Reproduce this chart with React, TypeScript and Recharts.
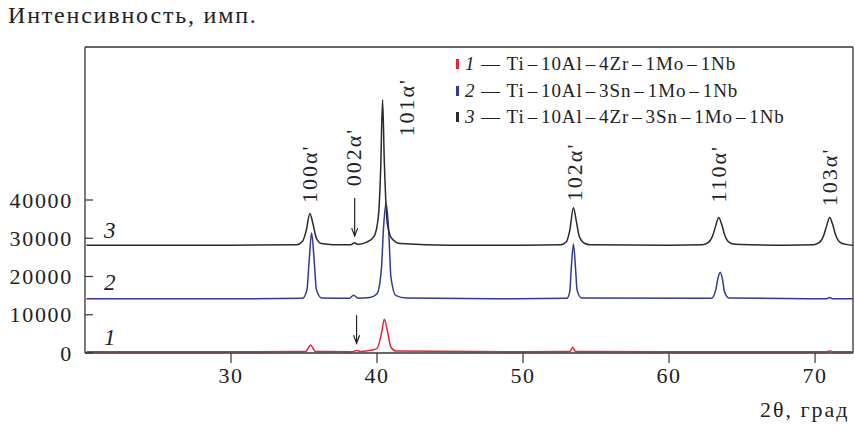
import { LineChart, Line, XAxis, YAxis, ReferenceLine, ReferenceDot } from 'recharts'

const FONT = '"Liberation Serif", "Times New Roman", serif'

// curve 3: Ti-10Al-4Zr-3Sn-1Mo-1Nb (black, offset up)
const theta3 = [20.1, 30, 34.5, 34.9, 35.15, 35.4, 35.6, 35.85, 36.2, 37, 38.2, 38.45, 38.7, 39.3, 39.8, 40.1, 40.25, 40.38, 40.5, 40.7, 41.0, 41.6, 45, 50, 52.6, 52.95, 53.2, 53.45, 53.65, 53.85, 54.2, 54.6, 60, 62.3, 62.7, 63.0, 63.2, 63.4, 63.6, 63.8, 64.1, 64.5, 68, 69.9, 70.3, 70.6, 70.8, 71.0, 71.2, 71.4, 71.7, 72.1, 72.6]
const counts3 = [28200, 28200, 28300, 29200, 32000, 36500, 34000, 30000, 28600, 28300, 28300, 28800, 28400, 29000, 30500, 36000, 48000, 66200, 50000, 34000, 30000, 28600, 28200, 28200, 28300, 29000, 32000, 38000, 34500, 30500, 28700, 28300, 28200, 28300, 28900, 30800, 33300, 35400, 33700, 31000, 29000, 28400, 28200, 28300, 28900, 30800, 33300, 35400, 33700, 31000, 29000, 28400, 28200]

// curve 2: Ti-10Al-3Sn-1Mo-1Nb (blue)
const theta2 = [20.1, 30, 34.9, 35.2, 35.35, 35.52, 35.7, 35.85, 36.2, 38.1, 38.4, 38.7, 39.5, 40.0, 40.3, 40.45, 40.62, 40.8, 40.95, 41.3, 42, 48, 53.0, 53.2, 53.3, 53.45, 53.6, 53.7, 54.0, 62.9, 63.2, 63.35, 63.5, 63.65, 63.8, 64.1, 70.8, 71.0, 71.2, 72.6]
const counts2 = [14200, 14200, 14300, 16500, 24000, 31400, 24000, 16500, 14400, 14300, 15100, 14300, 14500, 15500, 22000, 33000, 39300, 32000, 20000, 15000, 14400, 14200, 14300, 16000, 22000, 28500, 22000, 16500, 14400, 14300, 16500, 19500, 21100, 19500, 16000, 14400, 14200, 14500, 14200, 14200]

// curve 1: Ti-10Al-4Zr-1Mo-1Nb (red)
const theta1 = [20.1, 30, 35.1, 35.3, 35.45, 35.6, 35.8, 38.3, 38.6, 38.9, 39.6, 40.0, 40.3, 40.5, 40.7, 40.95, 41.3, 50, 53.2, 53.4, 53.6, 60, 70.8, 71.0, 71.2, 72.6]
const counts1 = [300, 300, 400, 1300, 2100, 1300, 400, 350, 650, 400, 700, 1200, 5000, 8800, 6000, 1500, 500, 300, 400, 1500, 400, 300, 350, 550, 350, 300]

const xTicks = [30, 40, 50, 60, 70]
const yTicks = [0, 10000, 20000, 30000, 40000]

const peakLabels = ["100α'", "002α'", "101α'", "102α'", "110α'", "103α'"]
const peakTheta = [35.36, 38.35, 42.0, 53.5, 63.35, 71.0]
const peakLabelBase = [39200, 43600, 56600, 39700, 39300, 38400]

const arrowTheta = [38.47, 38.6]
const arrowStart = [40500, 9870]

const curveNums = ['3', '2', '1']
const curveNumTheta = [21.7, 21.7, 21.7]
const curveNumBase = [30100, 16400, 2100]

const seriesNames = ['1', '2', '3']
const seriesAlloys = ['Ti–10Al–4Zr–1Mo–1Nb', 'Ti–10Al–3Sn–1Mo–1Nb', 'Ti–10Al–4Zr–3Sn–1Mo–1Nb']
const seriesColors = ['#e32636', '#323a96', '#2a2a2a']

const zip = (xs: number[], ys: number[]) => xs.map((x, i) => ({ x, y: ys[i] }))
const data1 = zip(theta1, counts1)
const data2 = zip(theta2, counts2)
const data3 = zip(theta3, counts3)

const AX = '#333'

function YTick({ x, y, payload }: any) {
  return (
    <g>
      <line x1={x + 12} x2={x + 20} y1={y} y2={y} stroke={AX} strokeWidth={1.2} />
      <text x={x} y={y} dy="0.35em" textAnchor="end" fontFamily={FONT} fontSize={22} letterSpacing={1.7} fill="#222">
        {payload.value}
      </text>
    </g>
  )
}

function XTick({ x, y, payload }: any) {
  return (
    <text x={x} y={y} dy="0.8em" textAnchor="middle" fontFamily={FONT} fontSize={22} letterSpacing={1.5} fill="#222">
      {payload.value}
    </text>
  )
}

function Alloy({ name }: { name: string }) {
  const parts = name.split('–')
  return (
    <>
      {parts.map((p, i) => (
        <span key={i}>
          {i > 0 && <span style={{ margin: '0 3px' }}>–</span>}
          {p}
        </span>
      ))}
    </>
  )
}

function LegendBox() {
  return (
    <div style={{ position: 'absolute', left: 456, top: 51, fontFamily: FONT, fontSize: 19, letterSpacing: 0.9, color: '#222', lineHeight: '26.5px' }}>
      {seriesNames.map((n, i) => (
        <div key={n} style={{ whiteSpace: 'nowrap', display: 'flex', alignItems: 'center' }}>
          <span style={{ display: 'inline-block', width: 3, height: 10, background: seriesColors[i], marginRight: 6 }} />
          <i>{n}</i>&nbsp;—&nbsp;<Alloy name={seriesAlloys[i]} />
        </div>
      ))}
    </div>
  )
}

export default function App() {
  return (
    <div style={{ position: 'absolute', left: 0, top: 0, width: 855, height: 432, background: '#fff', fontFamily: FONT }}>
      <LineChart width={855} height={432} margin={{ top: 47, right: 2, bottom: 49, left: 0 }}>
        <XAxis
          dataKey="x"
          type="number"
          domain={[20, 72.6]}
          ticks={xTicks}
          allowDataOverflow
          height={30}
          tickSize={10}
          tickMargin={2}
          tick={<XTick />}
          axisLine={{ stroke: AX, strokeWidth: 1.3 }}
          tickLine={{ stroke: AX, strokeWidth: 1.2 }}
        />
        <YAxis
          type="number"
          domain={[0, 80000]}
          ticks={yTicks}
          allowDataOverflow
          width={85}
          tickSize={0}
          tickMargin={12}
          tickLine={false}
          tick={<YTick />}
          axisLine={{ stroke: AX, strokeWidth: 1.3 }}
        />
        <ReferenceLine y={80000} stroke={AX} strokeWidth={1.3} />
        <ReferenceLine x={72.6} stroke={AX} strokeWidth={1.3} />
        <Line data={data1} dataKey="y" type="monotone" stroke={seriesColors[0]} strokeWidth={1.5} dot={false} isAnimationActive={false} />
        <Line data={data2} dataKey="y" type="monotone" stroke={seriesColors[1]} strokeWidth={1.5} dot={false} isAnimationActive={false} />
        <Line data={data3} dataKey="y" type="monotone" stroke={seriesColors[2]} strokeWidth={1.5} dot={false} isAnimationActive={false} />
        {peakLabels.map((t, i) => (
          <ReferenceDot
            key={t}
            x={peakTheta[i]}
            y={peakLabelBase[i]}
            r={0}
            shape={(p: any) => (
              <text
                x={p.cx}
                y={p.cy}
                transform={`rotate(-90 ${p.cx} ${p.cy})`}
                dy="0.35em"
                textAnchor="start"
                fontFamily={FONT}
                fontSize={22}
                letterSpacing={2}
                fill="#222"
              >
                {t}
              </text>
            )}
          />
        ))}
        {arrowTheta.map((a, i) => (
          <ReferenceDot
            key={'arr' + i}
            x={a}
            y={arrowStart[i]}
            r={0}
            shape={(p: any) => (
              <g>
                <line x1={p.cx} x2={p.cx} y1={p.cy} y2={p.cy + (i === 0 ? 37 : 27)} stroke="#222" strokeWidth={1.2} />
                <path
                  d={`M${p.cx - 3},${p.cy + (i === 0 ? 30 : 20)} L${p.cx},${p.cy + (i === 0 ? 38 : 28)} L${p.cx + 3},${p.cy + (i === 0 ? 30 : 20)}`}
                  fill="none"
                  stroke="#222"
                  strokeWidth={1.2}
                />
              </g>
            )}
          />
        ))}
        {curveNums.map((n, i) => (
          <ReferenceDot
            key={'n' + n}
            x={curveNumTheta[i]}
            y={curveNumBase[i]}
            r={0}
            shape={(p: any) => (
              <text x={p.cx} y={p.cy} textAnchor="middle" fontFamily={FONT} fontStyle="italic" fontSize={23} fill="#222">
                {n}
              </text>
            )}
          />
        ))}
      </LineChart>
      <div style={{ position: 'absolute', left: 8, top: 2, fontSize: 24, letterSpacing: 1.8, color: '#222' }}>Интенсивность, имп.</div>
      <div style={{ position: 'absolute', left: 760, top: 397, fontSize: 22, letterSpacing: 2, color: '#222' }}>2θ, град</div>
      <LegendBox />
    </div>
  )
}
